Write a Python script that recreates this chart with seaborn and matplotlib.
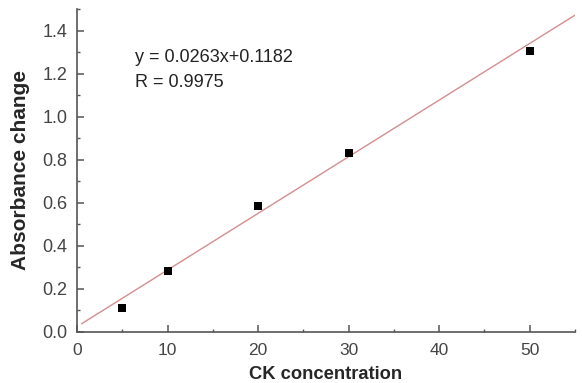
import numpy as np
import pandas as pd
import matplotlib
matplotlib.use("Agg")
import matplotlib.pyplot as plt
import seaborn as sns
from matplotlib.ticker import MultipleLocator

# data
conc = [5, 10, 20, 30, 50]
absorb = [0.112, 0.284, 0.583, 0.833, 1.307]
fit_x = [0.5, 55]
slope = 0.0263
intercept = 0.025
equation_text = "y = 0.0263x+0.1182\nR = 0.9975"

sns.set_style("white")
plt.rcParams['font.family'] = ['Liberation Sans', 'DejaVu Sans']

fig = plt.figure(figsize=(5.82, 3.83), dpi=100)
ax = fig.add_axes([77/582, 1-332/383, (575-77)/582, (332-9)/383])

df = pd.DataFrame({"x": conc, "y": absorb})
fit = pd.DataFrame({"x": fit_x, "y": [slope*v + intercept for v in fit_x]})

sns.lineplot(data=fit, x="x", y="y", ax=ax, color="#d48e8e", linewidth=1.0)
sns.scatterplot(data=df, x="x", y="y", ax=ax, marker="s", s=28, color="black",
                edgecolor="black", linewidth=0, zorder=3)

ax.set_xlim(0, 55)
ax.set_ylim(0, 1.5)
ax.xaxis.set_major_locator(MultipleLocator(10))
ax.xaxis.set_minor_locator(MultipleLocator(5))
ax.yaxis.set_major_locator(MultipleLocator(0.2))
ax.yaxis.set_minor_locator(MultipleLocator(0.1))
ax.yaxis.set_major_formatter(matplotlib.ticker.FormatStrFormatter('%.1f'))

for s in ["top", "right"]:
    ax.spines[s].set_visible(False)
for s in ["left", "bottom"]:
    ax.spines[s].set_color("#555555")
    ax.spines[s].set_linewidth(1.2)

ax.tick_params(which="major", direction="in", length=5, width=1.1, color="#555555",
               labelcolor="#444444", bottom=True, left=True)
ax.tick_params(which="minor", direction="in", length=2.5, width=1.0, color="#555555",
               bottom=True, left=True)
ax.tick_params(axis="x", which="major", labelsize=12.5, pad=8)
ax.tick_params(axis="y", which="major", labelsize=13, pad=7)

ax.set_xlabel("CK concentration", fontsize=13.2, fontweight="bold", labelpad=6)
ax.set_ylabel("Absorbance change", fontsize=15, fontweight="bold", labelpad=9)

ax.text(6.4, 1.312, equation_text, fontsize=13, color="#222222",
        va="top", ha="left", linespacing=1.6)

fig.savefig("out.png", dpi=100)
